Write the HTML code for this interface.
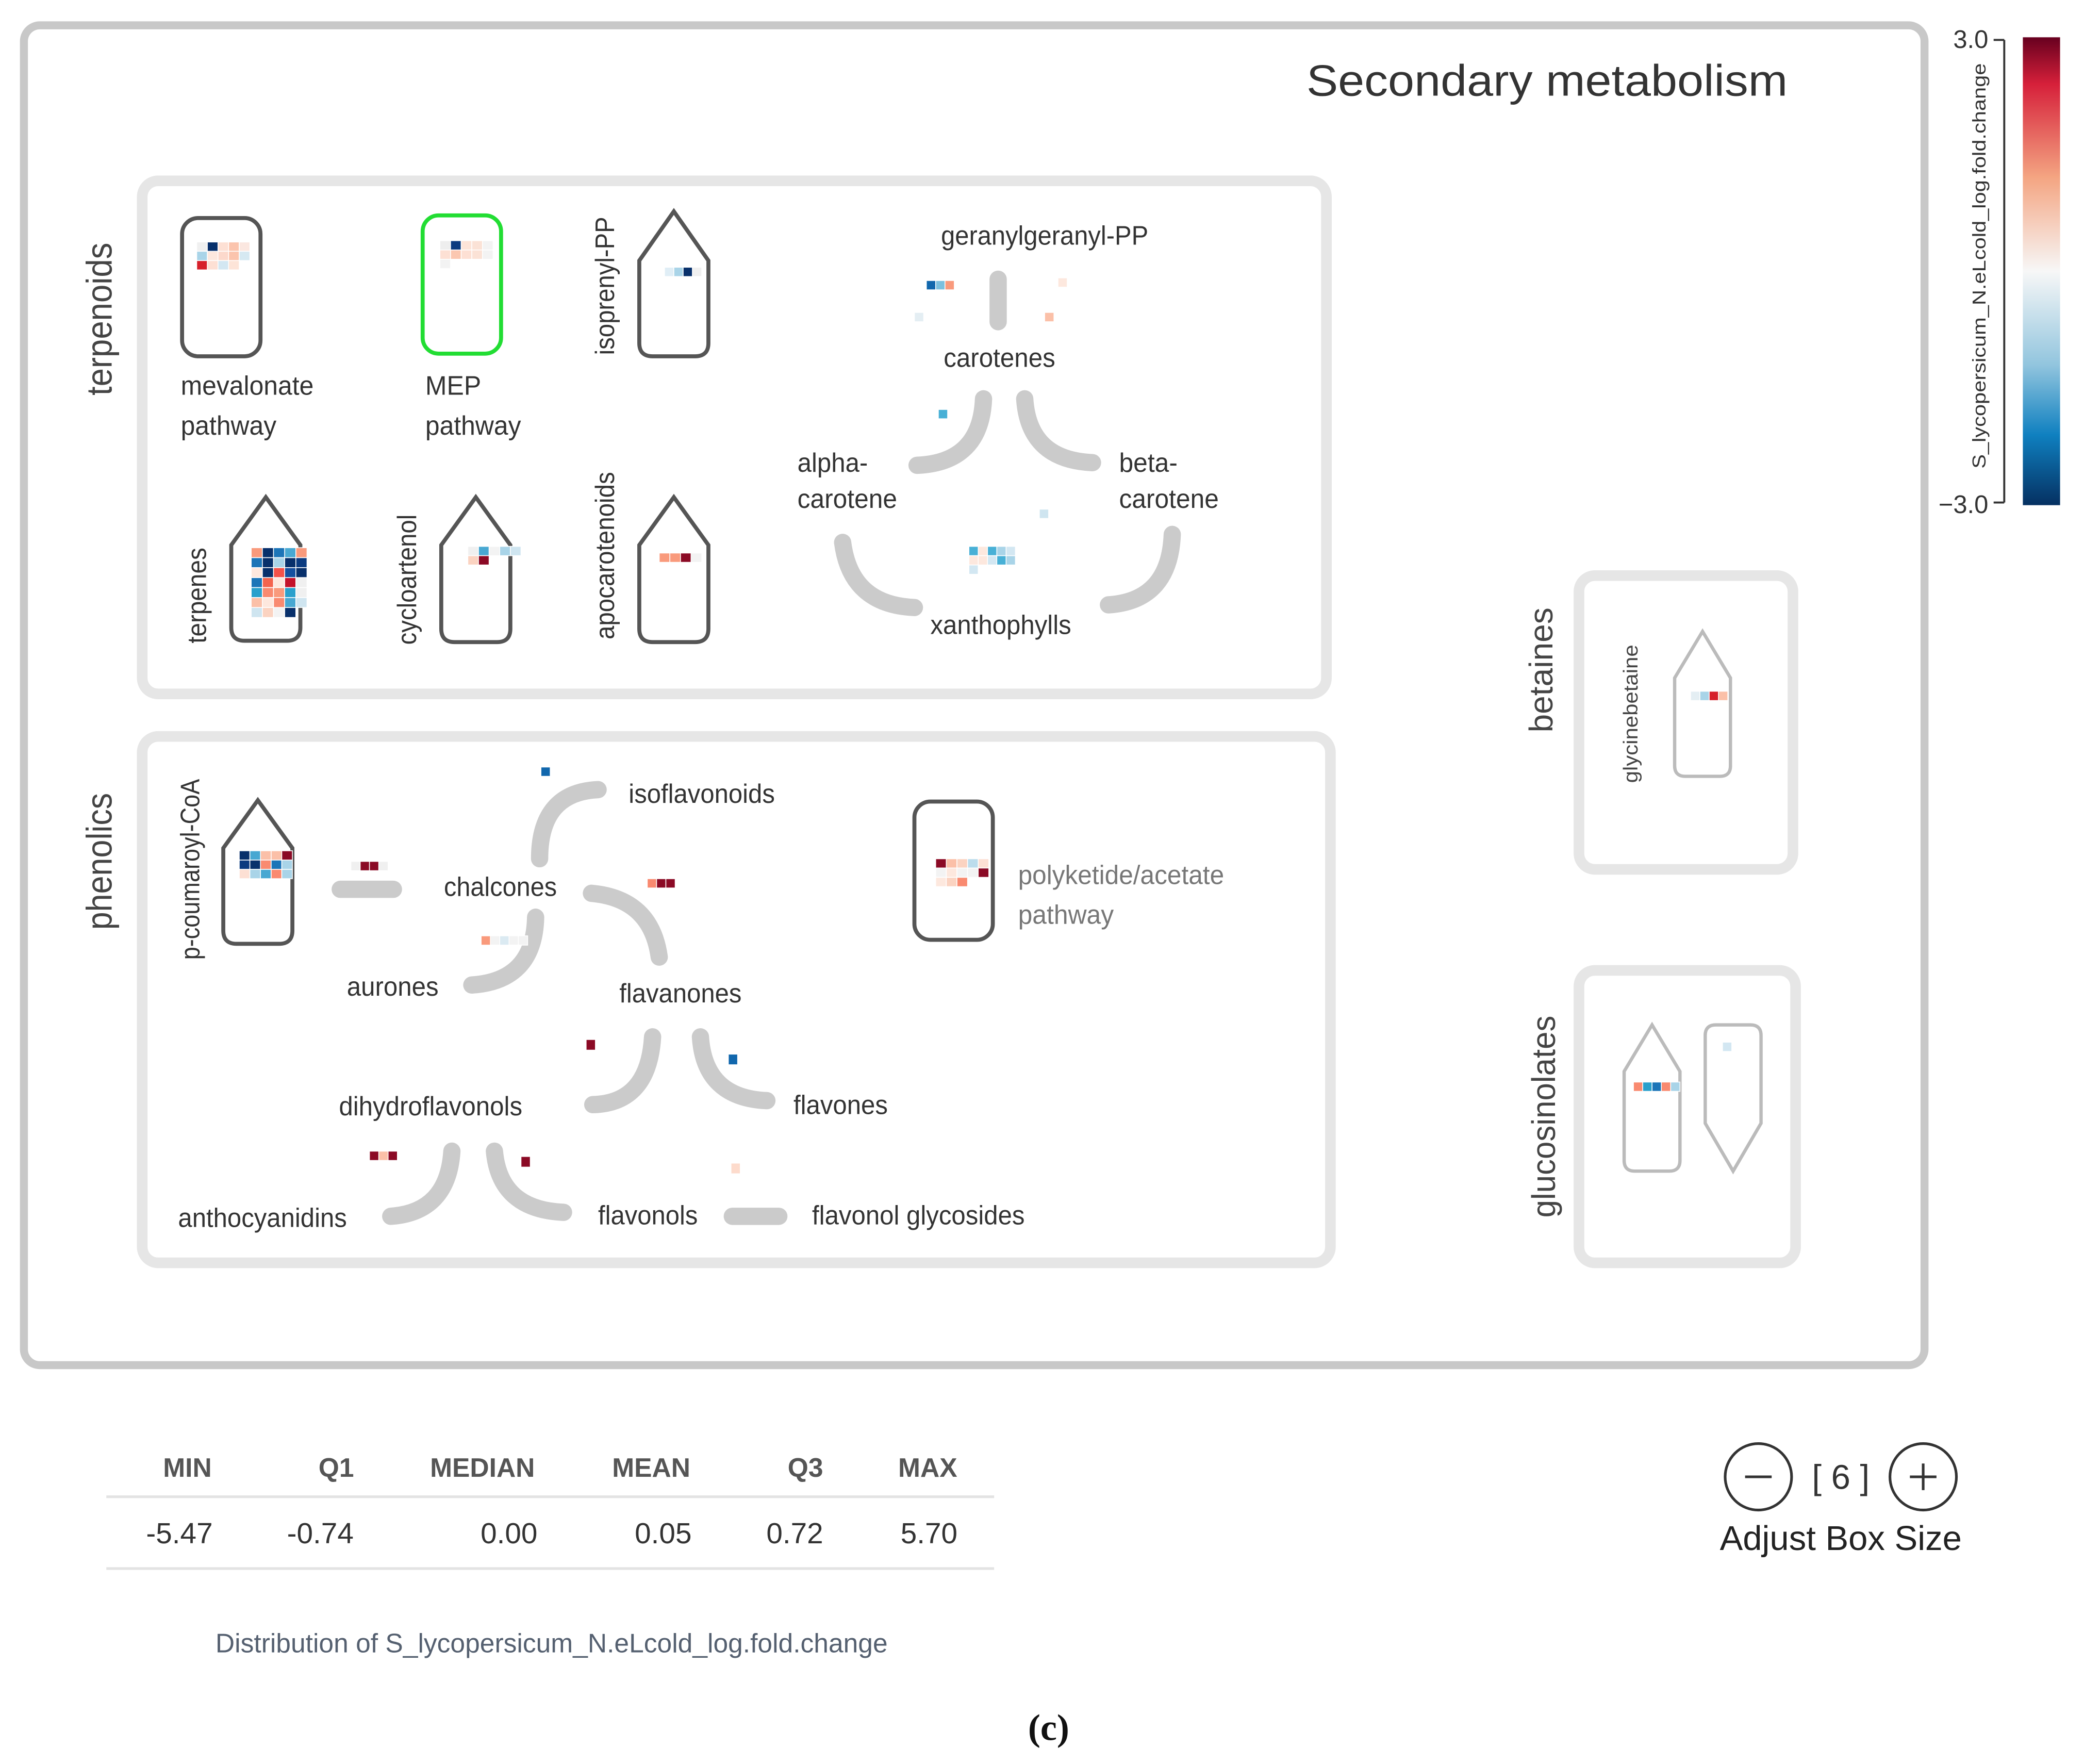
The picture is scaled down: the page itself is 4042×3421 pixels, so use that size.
<!DOCTYPE html>
<html><head><meta charset="utf-8"><style>
html,body{margin:0;padding:0;background:#fff}
svg{display:block}
text{font-family:"Liberation Sans",sans-serif}
.l{font-size:20px;fill:#333}
.a{fill:none;stroke:#cbcbcb;stroke-width:13;stroke-linecap:round}
.s{fill:#fff;stroke:#555;stroke-width:3}
</style></head><body>
<svg width="4042" height="3421" viewBox="0 0 1568 1327" xmlns="http://www.w3.org/2000/svg">
<defs><linearGradient id="cb" x1="0" y1="0" x2="0" y2="1">
<stop offset="0" stop-color="#67001f"/><stop offset="0.1" stop-color="#d6203a"/><stop offset="0.3" stop-color="#f4a582"/><stop offset="0.5" stop-color="#f7f7f7"/><stop offset="0.7" stop-color="#92c5de"/><stop offset="0.85" stop-color="#0f80c0"/><stop offset="1" stop-color="#053061"/></linearGradient></defs>

<rect x="18" y="19" width="1430" height="1008" rx="12" fill="#fff" stroke="#c8c8c8" stroke-width="6"/>
<text x="1164" y="72" text-anchor="middle" font-size="33" fill="#333" textLength="362" lengthAdjust="spacingAndGlyphs">Secondary metabolism</text>

<!-- colorbar -->
<rect x="1522" y="28" width="28" height="352" fill="url(#cb)"/>
<line x1="1500" y1="30" x2="1508" y2="30" stroke="#333" stroke-width="1.5"/>
<line x1="1500" y1="378" x2="1508" y2="378" stroke="#333" stroke-width="1.5"/>
<line x1="1508" y1="30" x2="1508" y2="378" stroke="#333" stroke-width="1.5"/>
<text x="1496" y="36" text-anchor="end" font-size="19" fill="#333">3.0</text>
<text x="1496" y="386" text-anchor="end" font-size="19" fill="#333">−3.0</text>
<text transform="translate(1494,200) rotate(-90)" text-anchor="middle" font-size="14" fill="#333" textLength="305" lengthAdjust="spacingAndGlyphs">S_lycopersicum_N.eLcold_log.fold.change</text>

<!-- group boxes -->
<rect x="107" y="136" width="891" height="386" rx="12" fill="none" stroke="#e6e6e6" stroke-width="8"/>
<rect x="107" y="554" width="894" height="396" rx="12" fill="none" stroke="#e6e6e6" stroke-width="8"/>
<rect x="1188" y="433" width="161" height="221" rx="12" fill="none" stroke="#e6e6e6" stroke-width="8"/>
<rect x="1188" y="730" width="163" height="220" rx="12" fill="none" stroke="#e6e6e6" stroke-width="8"/>

<text transform="translate(84,240) rotate(-90)" text-anchor="middle" font-size="27" fill="#444" textLength="115" lengthAdjust="spacingAndGlyphs">terpenoids</text>
<text transform="translate(84,648) rotate(-90)" text-anchor="middle" font-size="27" fill="#444" textLength="103" lengthAdjust="spacingAndGlyphs">phenolics</text>
<text transform="translate(1168,504) rotate(-90)" text-anchor="middle" font-size="25" fill="#444" textLength="94" lengthAdjust="spacingAndGlyphs">betaines</text>
<text transform="translate(1170,840) rotate(-90)" text-anchor="middle" font-size="25" fill="#444" textLength="152" lengthAdjust="spacingAndGlyphs">glucosinolates</text>

<!-- terpenoid shapes -->
<rect class="s" x="137" y="164" width="59" height="104" rx="12"/>
<rect x="318" y="162" width="59" height="104" rx="12" fill="#fff" stroke="#22dd33" stroke-width="3"/>
<path class="s" d="M481,196 L507,159 L533,196 L533,258 Q533,268 523,268 L491,268 Q481,268 481,258 Z"/>
<path class="s" d="M174,410 L200,374 L226,410 L226,472 Q226,482 216,482 L184,482 Q174,482 174,472 Z"/>
<path class="s" d="M332,410 L358,374 L384,410 L384,473 Q384,483 374,483 L342,483 Q332,483 332,473 Z"/>
<path class="s" d="M481,410 L507,374 L533,410 L533,473 Q533,483 523,483 L491,483 Q481,483 481,473 Z"/>

<text class="l" x="136" y="297" textLength="100" lengthAdjust="spacingAndGlyphs">mevalonate</text>
<text class="l" x="136" y="327" textLength="72" lengthAdjust="spacingAndGlyphs">pathway</text>
<text class="l" x="320" y="297" textLength="42" lengthAdjust="spacingAndGlyphs">MEP</text>
<text class="l" x="320" y="327" textLength="72" lengthAdjust="spacingAndGlyphs">pathway</text>
<text class="l" transform="translate(462,215) rotate(-90)" text-anchor="middle" textLength="104" lengthAdjust="spacingAndGlyphs">isoprenyl-PP</text>
<text class="l" transform="translate(155,448) rotate(-90)" text-anchor="middle" textLength="72" lengthAdjust="spacingAndGlyphs">terpenes</text>
<text class="l" transform="translate(313,436) rotate(-90)" text-anchor="middle" textLength="98" lengthAdjust="spacingAndGlyphs">cycloartenol</text>
<text class="l" transform="translate(462,418) rotate(-90)" text-anchor="middle" textLength="126" lengthAdjust="spacingAndGlyphs">apocarotenoids</text>

<!-- carotenoid pathway -->
<text class="l" x="786" y="184" text-anchor="middle" textLength="156" lengthAdjust="spacingAndGlyphs">geranylgeranyl-PP</text>
<text class="l" x="752" y="276" text-anchor="middle" textLength="84" lengthAdjust="spacingAndGlyphs">carotenes</text>
<text class="l" x="600" y="355" textLength="53" lengthAdjust="spacingAndGlyphs">alpha-</text>
<text class="l" x="600" y="382" textLength="75" lengthAdjust="spacingAndGlyphs">carotene</text>
<text class="l" x="842" y="355" textLength="44" lengthAdjust="spacingAndGlyphs">beta-</text>
<text class="l" x="842" y="382" textLength="75" lengthAdjust="spacingAndGlyphs">carotene</text>
<text class="l" x="753" y="477" text-anchor="middle" textLength="106" lengthAdjust="spacingAndGlyphs">xanthophylls</text>
<path class="a" d="M751,210 L751,242"/>
<path class="a" d="M740,300 Q738,348 690,350"/>
<path class="a" d="M771,300 Q774,346 822,348"/>
<path class="a" d="M634,408 Q640,455 688,457"/>
<path class="a" d="M882,402 Q880,452 834,455"/>

<!-- phenolics shapes -->
<path class="s" d="M168,638 L194,602 L220,638 L220,700 Q220,710 210,710 L178,710 Q168,710 168,700 Z"/>
<rect class="s" x="688" y="603" width="59" height="104" rx="12"/>
<text class="l" transform="translate(150,654) rotate(-90)" text-anchor="middle" textLength="136" lengthAdjust="spacingAndGlyphs">p-coumaroyl-CoA</text>
<text x="766" y="665" font-size="20" fill="#777" textLength="155" lengthAdjust="spacingAndGlyphs">polyketide/acetate</text>
<text x="766" y="695" font-size="20" fill="#777" textLength="72" lengthAdjust="spacingAndGlyphs">pathway</text>

<text class="l" x="473" y="604" textLength="110" lengthAdjust="spacingAndGlyphs">isoflavonoids</text>
<text class="l" x="334" y="674" textLength="85" lengthAdjust="spacingAndGlyphs">chalcones</text>
<text class="l" x="261" y="749" textLength="69" lengthAdjust="spacingAndGlyphs">aurones</text>
<text class="l" x="466" y="754" textLength="92" lengthAdjust="spacingAndGlyphs">flavanones</text>
<text class="l" x="255" y="839" textLength="138" lengthAdjust="spacingAndGlyphs">dihydroflavonols</text>
<text class="l" x="597" y="838" textLength="71" lengthAdjust="spacingAndGlyphs">flavones</text>
<text class="l" x="134" y="923" textLength="127" lengthAdjust="spacingAndGlyphs">anthocyanidins</text>
<text class="l" x="450" y="921" textLength="75" lengthAdjust="spacingAndGlyphs">flavonols</text>
<text class="l" x="611" y="921" textLength="160" lengthAdjust="spacingAndGlyphs">flavonol glycosides</text>

<path class="a" d="M256,669 L296,669"/>
<path class="a" d="M406,646 Q406,596 450,594"/>
<path class="a" d="M445,672 Q490,676 496,720"/>
<path class="a" d="M403,690 Q402,738 355,741"/>
<path class="a" d="M491,780 Q488,830 446,831"/>
<path class="a" d="M527,780 Q530,826 577,828"/>
<path class="a" d="M340,866 Q337,912 294,915"/>
<path class="a" d="M372,866 Q376,910 424,912"/>
<path class="a" d="M551,915 L586,915"/>

<!-- betaines & glucosinolates shapes -->
<path d="M1260,510 L1281,475 L1302,510 L1302,576 Q1302,584 1294,584 L1268,584 Q1260,584 1260,576 Z" fill="#fff" stroke="#bbb" stroke-width="2.5"/>
<text transform="translate(1232,537) rotate(-90)" text-anchor="middle" font-size="15" fill="#444" textLength="104" lengthAdjust="spacingAndGlyphs">glycinebetaine</text>
<path d="M1222,806 L1243,771 L1264,806 L1264,873 Q1264,881 1256,881 L1230,881 Q1222,881 1222,873 Z" fill="#fff" stroke="#bbb" stroke-width="2.5"/>
<path d="M1283,779 Q1283,771 1291,771 L1317,771 Q1325,771 1325,779 L1325,845 L1304,881 L1283,845 Z" fill="#fff" stroke="#bbb" stroke-width="2.5"/>

<!-- heatmap cells -->
<g stroke="#fff" stroke-width="0.6">
<rect x="148" y="182" width="8" height="7" fill="#f0f0f0"/><rect x="156" y="182" width="8" height="7" fill="#08306b"/><rect x="164" y="182" width="8" height="7" fill="#fde0d4"/><rect x="172" y="182" width="8" height="7" fill="#fbc4ad"/><rect x="180" y="182" width="8" height="7" fill="#fbe7e0"/>
<rect x="148" y="189" width="8" height="7" fill="#a9d4e8"/><rect x="156" y="189" width="8" height="7" fill="#fde8de"/><rect x="164" y="189" width="8" height="7" fill="#fcd9cc"/><rect x="172" y="189" width="8" height="7" fill="#fbc4ad"/><rect x="180" y="189" width="8" height="7" fill="#d6e9f2"/>
<rect x="148" y="196" width="8" height="7" fill="#d6202a"/><rect x="156" y="196" width="8" height="7" fill="#fde0d4"/><rect x="164" y="196" width="8" height="7" fill="#d3e7f2"/><rect x="172" y="196" width="8" height="7" fill="#fde4d8"/>
<rect x="331" y="181" width="8" height="7" fill="#eee"/><rect x="339" y="181" width="8" height="7" fill="#0b3b80"/><rect x="347" y="181" width="8" height="7" fill="#fde4d8"/><rect x="355" y="181" width="8" height="7" fill="#fbe2d6"/><rect x="363" y="181" width="8" height="7" fill="#f3f3f3"/>
<rect x="331" y="188" width="8" height="7" fill="#fde0d4"/><rect x="339" y="188" width="8" height="7" fill="#fbc7b0"/><rect x="347" y="188" width="8" height="7" fill="#fde0d4"/><rect x="355" y="188" width="8" height="7" fill="#fbe2d6"/><rect x="363" y="188" width="8" height="7" fill="#f3f3f3"/>
<rect x="331" y="195" width="8" height="7" fill="#f3f3f3"/>
<rect x="500" y="201" width="7" height="7" fill="#e0eef6"/><rect x="507" y="201" width="7" height="7" fill="#a9d4e8"/><rect x="514" y="201" width="7" height="7" fill="#08306b"/><rect x="521" y="201" width="7" height="7" fill="#f0f0f0"/>
<rect x="189" y="412" width="8.4" height="7.5" fill="#f99a7c"/><rect x="197.4" y="412" width="8.4" height="7.5" fill="#08306b"/><rect x="205.8" y="412" width="8.4" height="7.5" fill="#1c75b8"/><rect x="214.2" y="412" width="8.4" height="7.5" fill="#48a8d2"/><rect x="222.6" y="412" width="8.4" height="7.5" fill="#f99a7c"/>
<rect x="189" y="419.5" width="8.4" height="7.5" fill="#1c75b8"/><rect x="197.4" y="419.5" width="8.4" height="7.5" fill="#08306b"/><rect x="205.8" y="419.5" width="8.4" height="7.5" fill="#a9d4e8"/><rect x="214.2" y="419.5" width="8.4" height="7.5" fill="#08306b"/><rect x="222.6" y="419.5" width="8.4" height="7.5" fill="#0b3b80"/>
<rect x="189" y="427" width="8.4" height="7.5" fill="#fde8de"/><rect x="197.4" y="427" width="8.4" height="7.5" fill="#08306b"/><rect x="205.8" y="427" width="8.4" height="7.5" fill="#f4524a"/><rect x="214.2" y="427" width="8.4" height="7.5" fill="#1550a0"/><rect x="222.6" y="427" width="8.4" height="7.5" fill="#08306b"/>
<rect x="189" y="434.5" width="8.4" height="7.5" fill="#1c75b8"/><rect x="197.4" y="434.5" width="8.4" height="7.5" fill="#f4644e"/><rect x="205.8" y="434.5" width="8.4" height="7.5" fill="#fde8de"/><rect x="214.2" y="434.5" width="8.4" height="7.5" fill="#c4122a"/><rect x="222.6" y="434.5" width="8.4" height="7.5" fill="#f0f0f0"/>
<rect x="189" y="442" width="8.4" height="7.5" fill="#2aa0cc"/><rect x="197.4" y="442" width="8.4" height="7.5" fill="#f98a70"/><rect x="205.8" y="442" width="8.4" height="7.5" fill="#f99a7c"/><rect x="214.2" y="442" width="8.4" height="7.5" fill="#2aa0cc"/><rect x="222.6" y="442" width="8.4" height="7.5" fill="#f0f0f0"/>
<rect x="189" y="449.5" width="8.4" height="7.5" fill="#fbc0a8"/><rect x="197.4" y="449.5" width="8.4" height="7.5" fill="#fde8de"/><rect x="205.8" y="449.5" width="8.4" height="7.5" fill="#f98a70"/><rect x="214.2" y="449.5" width="8.4" height="7.5" fill="#48a8d2"/><rect x="222.6" y="449.5" width="8.4" height="7.5" fill="#cfe5f0"/>
<rect x="189" y="457" width="8.4" height="7.5" fill="#cfe5f0"/><rect x="197.4" y="457" width="8.4" height="7.5" fill="#fbd3c1"/><rect x="205.8" y="457" width="8.4" height="7.5" fill="#f3f3f3"/><rect x="214.2" y="457" width="8.4" height="7.5" fill="#08306b"/>
<rect x="352" y="411" width="8" height="7" fill="#f0f0f0"/><rect x="360" y="411" width="8" height="7" fill="#48a8d2"/><rect x="368" y="411" width="8" height="7" fill="#f3f3f3"/><rect x="376" y="411" width="8" height="7" fill="#a9d4e8"/><rect x="384" y="411" width="8" height="7" fill="#cfe5f0"/>
<rect x="352" y="418" width="8" height="7" fill="#fbd3c1"/><rect x="360" y="418" width="8" height="7" fill="#8b0a25"/>
<rect x="496" y="416" width="8" height="7" fill="#f99a7c"/><rect x="504" y="416" width="8" height="7" fill="#f99a7c"/><rect x="512" y="416" width="8" height="7" fill="#8b0a25"/><rect x="520" y="416" width="8" height="7" fill="#f3f3f3"/>
<rect x="697" y="211" width="7" height="7" fill="#1167ad"/><rect x="704" y="211" width="7" height="7" fill="#7cc0de"/><rect x="711" y="211" width="7" height="7" fill="#f99a7c"/>
<rect x="796" y="209" width="7" height="7" fill="#fde8de"/>
<rect x="688" y="235" width="7" height="7" fill="#e4eef3"/>
<rect x="786" y="235" width="7" height="7" fill="#fbc0a8"/>
<rect x="706" y="308" width="7" height="7" fill="#48b0d6"/>
<rect x="782" y="383" width="7" height="7" fill="#cfe5f0"/>
<rect x="729" y="411" width="7" height="7" fill="#48b0d6"/><rect x="736" y="411" width="7" height="7" fill="#fde8de"/><rect x="743" y="411" width="7" height="7" fill="#48b0d6"/><rect x="750" y="411" width="7" height="7" fill="#a9d4e8"/><rect x="757" y="411" width="7" height="7" fill="#d3e7f2"/>
<rect x="729" y="418" width="7" height="7" fill="#fde8de"/><rect x="736" y="418" width="7" height="7" fill="#fde8de"/><rect x="743" y="418" width="7" height="7" fill="#d3e7f2"/><rect x="750" y="418" width="7" height="7" fill="#48b0d6"/><rect x="757" y="418" width="7" height="7" fill="#a9d4e8"/>
<rect x="729" y="425" width="7" height="7" fill="#d3e7f2"/>
<rect x="180" y="640" width="8" height="7" fill="#08306b"/><rect x="188" y="640" width="8" height="7" fill="#48a8d2"/><rect x="196" y="640" width="8" height="7" fill="#fbc0a8"/><rect x="204" y="640" width="8" height="7" fill="#fbc0a8"/><rect x="212" y="640" width="8" height="7" fill="#8b0a25"/>
<rect x="180" y="647" width="8" height="7" fill="#0b3b80"/><rect x="188" y="647" width="8" height="7" fill="#08306b"/><rect x="196" y="647" width="8" height="7" fill="#f98a70"/><rect x="204" y="647" width="8" height="7" fill="#1c75b8"/><rect x="212" y="647" width="8" height="7" fill="#a9d4e8"/>
<rect x="180" y="654" width="8" height="7" fill="#fde0d4"/><rect x="188" y="654" width="8" height="7" fill="#a9d4e8"/><rect x="196" y="654" width="8" height="7" fill="#48a8d2"/><rect x="204" y="654" width="8" height="7" fill="#f98a70"/><rect x="212" y="654" width="8" height="7" fill="#a9d4e8"/>
<rect x="704" y="646" width="8" height="7" fill="#8b0a25"/><rect x="712" y="646" width="8" height="7" fill="#fbc0a8"/><rect x="720" y="646" width="8" height="7" fill="#fbd3c1"/><rect x="728" y="646" width="8" height="7" fill="#bcdcec"/><rect x="736" y="646" width="8" height="7" fill="#fde0d4"/>
<rect x="704" y="653" width="8" height="7" fill="#f3f3f3"/><rect x="712" y="653" width="8" height="7" fill="#fde8de"/><rect x="720" y="653" width="8" height="7" fill="#f3f3f3"/><rect x="728" y="653" width="8" height="7" fill="#f3f3f3"/><rect x="736" y="653" width="8" height="7" fill="#8b0a25"/>
<rect x="704" y="660" width="8" height="7" fill="#fde8de"/><rect x="712" y="660" width="8" height="7" fill="#fbd3c1"/><rect x="720" y="660" width="8" height="7" fill="#f98a70"/>
<rect x="264" y="648" width="7" height="7" fill="#f0f0f0"/><rect x="271" y="648" width="7" height="7" fill="#8b0a25"/><rect x="278" y="648" width="7" height="7" fill="#8b0a25"/><rect x="285" y="648" width="7" height="7" fill="#f0f0f0"/>
<rect x="407" y="577" width="7" height="7" fill="#1167ad"/>
<rect x="487" y="661" width="7" height="7" fill="#f98a70"/><rect x="494" y="661" width="7" height="7" fill="#8b0a25"/><rect x="501" y="661" width="7" height="7" fill="#8b0a25"/>
<rect x="362" y="704" width="7" height="7" fill="#f99a7c"/><rect x="369" y="704" width="7" height="7" fill="#f3f3f3"/><rect x="376" y="704" width="7" height="7" fill="#dbeaf2"/><rect x="383" y="704" width="7" height="7" fill="#f3f3f3"/><rect x="390" y="704" width="7" height="7" fill="#f3f3f3"/>
<rect x="441" y="782" width="7" height="8" fill="#8b0a25"/>
<rect x="548" y="793" width="7" height="8" fill="#1167ad"/>
<rect x="278" y="866" width="7" height="7" fill="#8b0a25"/><rect x="285" y="866" width="7" height="7" fill="#fbc0a8"/><rect x="292" y="866" width="7" height="7" fill="#8b0a25"/>
<rect x="392" y="870" width="7" height="8" fill="#8b0a25"/>
<rect x="550" y="875" width="7" height="8" fill="#fddbcc"/>
<rect x="1272" y="520" width="7" height="7" fill="#e4eef3"/><rect x="1279" y="520" width="7" height="7" fill="#a9d4e8"/><rect x="1286" y="520" width="7" height="7" fill="#d6202a"/><rect x="1293" y="520" width="7" height="7" fill="#fbc0a8"/>
<rect x="1229" y="814" width="7" height="7" fill="#f98a70"/><rect x="1236" y="814" width="7" height="7" fill="#2aa0cc"/><rect x="1243" y="814" width="7" height="7" fill="#1c75b8"/><rect x="1250" y="814" width="7" height="7" fill="#f98a70"/><rect x="1257" y="814" width="7" height="7" fill="#a9d4e8"/>
<rect x="1296" y="784" width="7" height="7" fill="#d3e7f2"/>
</g>

<!-- stats table -->
<g font-size="20" fill="#555" font-weight="bold" text-anchor="middle">
<text x="141" y="1111">MIN</text><text x="253" y="1111">Q1</text><text x="363" y="1111">MEDIAN</text><text x="490" y="1111">MEAN</text><text x="606" y="1111">Q3</text><text x="698" y="1111">MAX</text>
</g>
<line x1="80" y1="1126" x2="748" y2="1126" stroke="#e3e3e3" stroke-width="2"/>
<g font-size="22" fill="#333" text-anchor="middle">
<text x="135" y="1161">-5.47</text><text x="241" y="1161">-0.74</text><text x="383" y="1161">0.00</text><text x="499" y="1161">0.05</text><text x="598" y="1161">0.72</text><text x="699" y="1161">5.70</text>
</g>
<line x1="80" y1="1180" x2="748" y2="1180" stroke="#e3e3e3" stroke-width="2"/>
<text x="415" y="1243" text-anchor="middle" font-size="20" fill="#556070">Distribution of S_lycopersicum_N.eLcold_log.fold.change</text>

<!-- box size control -->
<circle cx="1323" cy="1111" r="25" fill="#fff" stroke="#333" stroke-width="2"/>
<line x1="1313" y1="1111" x2="1333" y2="1111" stroke="#333" stroke-width="2"/>
<circle cx="1447" cy="1111" r="25" fill="#fff" stroke="#333" stroke-width="2"/>
<line x1="1437" y1="1111" x2="1457" y2="1111" stroke="#333" stroke-width="2"/>
<line x1="1447" y1="1101" x2="1447" y2="1121" stroke="#333" stroke-width="2"/>
<text x="1385" y="1120" text-anchor="middle" font-size="26" fill="#333">[ 6 ]</text>
<text x="1385" y="1166" text-anchor="middle" font-size="26" fill="#222">Adjust Box Size</text>

<text x="789" y="1309" text-anchor="middle" font-size="28" font-weight="bold" fill="#111" style="font-family:'Liberation Serif',serif">(c)</text>
</svg>
</body></html>
